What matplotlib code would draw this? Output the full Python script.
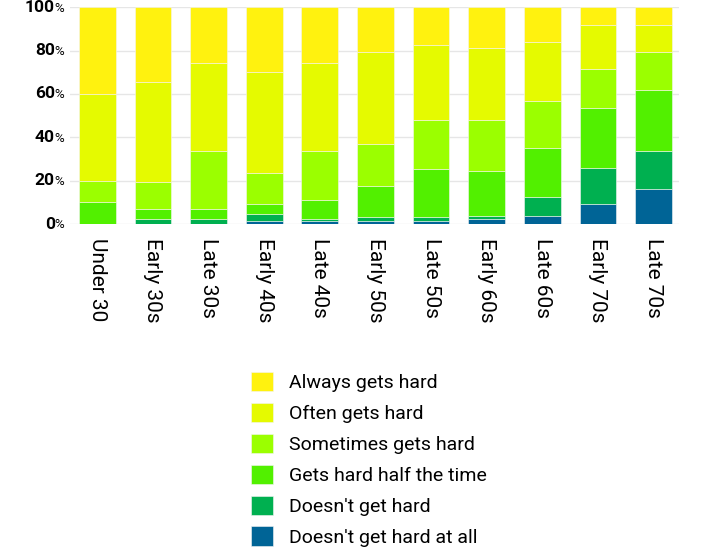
import matplotlib
matplotlib.use('Agg')
import matplotlib.pyplot as plt
import matplotlib.transforms as mtransforms
import numpy as np

plt.rcParams['font.family'] = ['Roboto', 'DejaVu Sans']

groups = ['Under 30', 'Early 30s', 'Late 30s', 'Early 40s', 'Late 40s', 'Early 50s',
          'Late 50s', 'Early 60s', 'Late 60s', 'Early 70s', 'Late 70s']

# stacked from bottom to top (percent)
not_at_all = [0, 0, 0, 1.2, 1.4, 1.5, 1.5, 2.2, 3.8, 9.1, 16.0]
not_hard = [0, 2.5, 2.5, 3.3, 1.1, 1.7, 1.7, 1.6, 8.8, 16.7, 17.7]
half_time = [10.0, 4.5, 4.5, 4.7, 8.5, 14.5, 22.3, 20.5, 22.3, 27.9, 28.3]
sometimes = [10.0, 12.5, 26.7, 14.5, 22.7, 19.2, 22.7, 23.9, 22.0, 17.7, 17.5]
often = [40.0, 45.9, 40.5, 46.3, 40.5, 42.5, 34.6, 33.2, 27.1, 20.6, 12.5]
always = [40.0, 34.6, 25.8, 30.0, 25.8, 20.6, 17.2, 18.6, 16.0, 8.0, 8.0]

series = [not_at_all, not_hard, half_time, sometimes, often, always]
names = ["Doesn't get hard at all", "Doesn't get hard", 'Gets hard half the time',
         'Sometimes gets hard', 'Often gets hard', 'Always gets hard']
colors = ['#006496', '#00b050', '#52f000', '#9bff00', '#e5fa00', '#fff20f']

yticks = [0, 20, 40, 60, 80, 100]

fig = plt.figure(figsize=(7.1, 5.5), dpi=100)
ax = fig.add_axes([0.0986, 0.5927, 0.858, 0.394])

x = np.arange(len(groups))
bottom = np.zeros(len(groups))
handles = []
for vals, name, c in zip(series, names, colors):
    b = ax.bar(x, vals, 0.66, bottom=bottom, color=c, label=name,
               edgecolor='#f4f4f4', linewidth=0.4, zorder=3)
    handles.append(b)
    bottom += np.array(vals)

ax.set_ylim(0, 100)
ax.set_xlim(-0.49, len(groups) - 0.54)
ax.set_yticks(yticks)
ax.set_yticklabels([])
ax.grid(axis='y', color='#e6e6e6', linewidth=1, zorder=0)
for s in ax.spines.values():
    s.set_visible(False)
ax.tick_params(axis='both', length=0)
ax.set_xticks(x)
ax.set_xticklabels(groups, rotation=270, fontsize=15, va='top', ha='center')
ax.tick_params(axis='x', pad=10)

trans = mtransforms.blended_transform_factory(ax.transAxes, ax.transData)
for v in yticks:
    ax.annotate(str(v), xy=(0, v), xycoords=trans, xytext=(-11, 0),
                textcoords='offset points', ha='right', va='center',
                fontsize=12.5, fontweight='bold')
    ax.annotate('%', xy=(0, v), xycoords=trans, xytext=(-11, -0.5),
                textcoords='offset points', ha='left', va='center',
                fontsize=9.5)

fig.legend(handles[::-1], names[::-1], loc='upper left',
           bbox_to_anchor=(243 / 710, 1 - 364 / 550), frameon=False,
           fontsize=14, handlelength=1.15, handleheight=1.15,
           labelspacing=0.55, handletextpad=0.8, borderaxespad=0)

fig.savefig('out.png', dpi=100)
